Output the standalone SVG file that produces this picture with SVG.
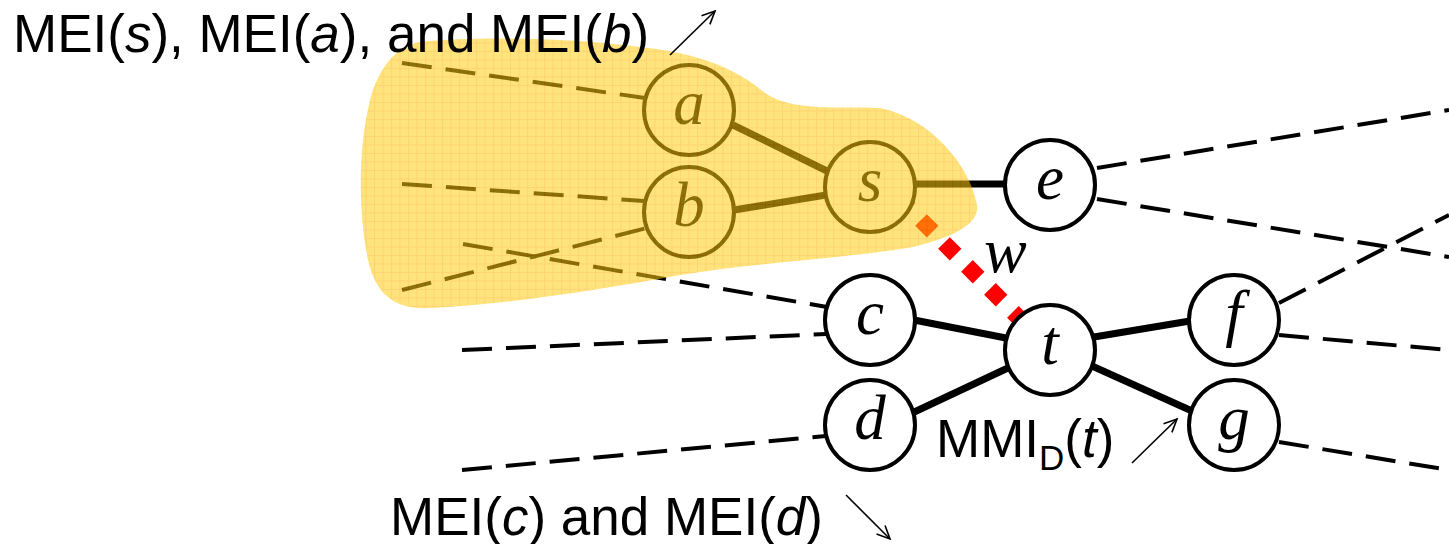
<svg xmlns="http://www.w3.org/2000/svg" width="1449" height="544" viewBox="0 0 1449 544">
<style>
.node circle{fill:#fff;stroke:#000;stroke-width:4}
.node text{font-family:"Liberation Serif","Times New Roman",serif;font-style:italic;font-size:63px;text-anchor:middle;fill:#000}
.thick{stroke:#000;stroke-width:7;fill:none}
.dash{stroke:#000;stroke-width:4;stroke-dasharray:30 14;fill:none}
.ann{font-family:"Liberation Sans",Arial,sans-serif;font-size:53px;fill:#000}
.arr{stroke:#000;stroke-width:1.6;fill:none;marker-end:url(#ah)}
</style>
<defs>
<marker id="ah" markerUnits="userSpaceOnUse" markerWidth="16" markerHeight="14" viewBox="0 0 16 14" refX="14" refY="7" orient="auto">
<path d="M1,1 L14,7 L1,13" fill="none" stroke="#000" stroke-width="1.6"/>
</marker>
<pattern id="grid" width="8.5" height="8.5" patternUnits="userSpaceOnUse">
<rect width="8.5" height="8.5" fill="#FFCC10"/>
<path d="M0,0.5 H8.5 M0.5,0 V8.5" stroke="#FFB000" stroke-width="1"/>
</pattern>
</defs>
<rect width="1449" height="544" fill="#fff"/>
<g id="connectors">
<line class="dash" x1="402" y1="63" x2="645" y2="98"/>
<line class="dash" x1="402" y1="184" x2="644" y2="201"/>
<line class="dash" x1="402" y1="290" x2="647" y2="228"/>
<line class="dash" x1="463" y1="244" x2="827" y2="307"/>
<line class="dash" x1="462" y1="350" x2="826" y2="334"/>
<line class="dash" x1="462" y1="470" x2="826" y2="436"/>
<line class="dash" x1="1097" y1="168" x2="1449" y2="110"/>
<line class="dash" x1="1097" y1="199" x2="1449" y2="257"/>
<line class="dash" x1="1279" y1="303" x2="1449" y2="215"/>
<line class="dash" x1="1279" y1="335" x2="1449" y2="350"/>
<line class="dash" x1="1279" y1="442" x2="1449" y2="470"/>
<line class="thick" x1="733" y1="125" x2="829" y2="172"/>
<line class="thick" x1="734" y1="210" x2="826" y2="195"/>
<line class="thick" x1="913" y1="184" x2="1006" y2="184"/>
<line class="thick" x1="914" y1="320" x2="1006" y2="338"/>
<line class="thick" x1="910" y1="414" x2="1010" y2="367"/>
<line class="thick" x1="1094" y1="337" x2="1190" y2="321"/>
<line class="thick" x1="1092" y1="366" x2="1192" y2="411"/>
<line x1="898" y1="197" x2="1035" y2="334" stroke="#FF0000" stroke-width="16.5" stroke-dasharray="16.5 16"/>
</g>
<g id="node-a" class="node"><circle cx="689" cy="110" r="45"/><text x="689" y="124">a</text></g>
<g id="node-b" class="node"><circle cx="689" cy="212" r="45"/><text x="689" y="226">b</text></g>
<g id="node-s" class="node"><circle cx="870" cy="187" r="45"/><text x="870" y="201">s</text></g>
<g id="node-e" class="node"><circle cx="1050" cy="185" r="45"/><text x="1050" y="199">e</text></g>
<g id="node-c" class="node"><circle cx="870" cy="320" r="45"/><text x="870" y="334">c</text></g>
<g id="node-t" class="node"><circle cx="1050" cy="350" r="45"/><text x="1050" y="364">t</text></g>
<g id="node-f" class="node"><circle cx="1234" cy="320" r="45"/><text x="1234" y="334">f</text></g>
<g id="node-d" class="node"><circle cx="870" cy="425" r="45"/><text x="870" y="439">d</text></g>
<g id="node-g" class="node"><circle cx="1234" cy="425" r="45"/><text x="1234" y="439">g</text></g>
<path id="region" d="M420,42 C480,36 570,38 640,47 C700,53 738,70 765,93 C792,112 840,106 880,108 C930,118 970,165 977,205 C980,225 950,238 913,247 C850,258 760,262 680,275 C600,290 500,305 430,308 C390,310 375,290 368,260 C358,210 358,150 370,100 C378,70 395,46 420,42 Z" fill="url(#grid)" opacity="0.55"/>
<text x="984" y="272" font-family="Liberation Serif, Times New Roman, serif" font-style="italic" font-size="64">w</text>
<g id="annotations">
<text class="ann" x="13" y="52">MEI(<tspan font-style="italic">s</tspan>), MEI(<tspan font-style="italic">a</tspan>), and MEI(<tspan font-style="italic">b</tspan>)</text>
<line class="arr" x1="670" y1="55" x2="715" y2="11"/>
<text class="ann" x="390" y="535">MEI(<tspan font-style="italic">c</tspan>) and MEI(<tspan font-style="italic">d</tspan>)</text>
<line class="arr" x1="846" y1="495" x2="890" y2="539"/>
<text class="ann" x="936" y="457">MMI<tspan font-size="35" dy="13">D</tspan><tspan dy="-13">(</tspan><tspan font-style="italic">t</tspan>)</text>
<line class="arr" x1="1132" y1="463" x2="1177" y2="419"/>
</g>
</svg>
